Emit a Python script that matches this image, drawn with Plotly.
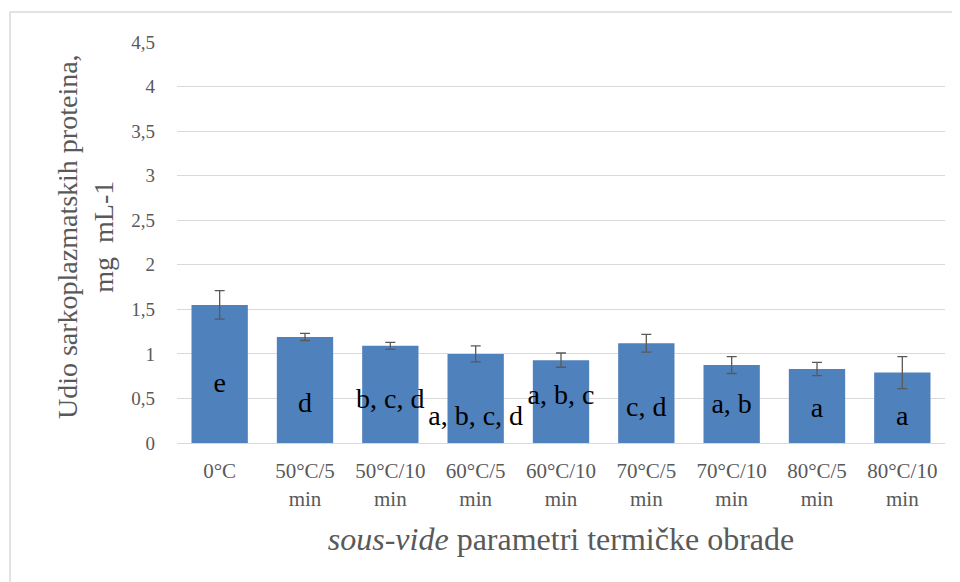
import plotly.graph_objects as go

categories = ["0°C", "50°C/5<br>min", "50°C/10<br>min", "60°C/5<br>min", "60°C/10<br>min",
              "70°C/5<br>min", "70°C/10<br>min", "80°C/5<br>min", "80°C/10<br>min"]
means = [1.55, 1.19, 1.09, 1.00, 0.93, 1.12, 0.875, 0.83, 0.79]
errors = [0.16, 0.04, 0.04, 0.09, 0.08, 0.10, 0.095, 0.075, 0.18]
letters = ["e", "d", "b, c, d", "a, b, c, d", "a, b, c", "c, d", "a, b", "a", "a"]
letter_y = [0.65, 0.43, 0.47, 0.28, 0.52, 0.38, 0.41, 0.37, 0.28]
y_ticks = [0, 0.5, 1, 1.5, 2, 2.5, 3, 3.5, 4, 4.5]
y_tick_text = ["0", "0,5", "1", "1,5", "2", "2,5", "3", "3,5", "4", "4,5"]

SERIF = "Liberation Serif"
GRAY = "#595959"

fig = go.Figure()
fig.add_trace(go.Bar(
    x=categories, y=means,
    marker=dict(color="#4f81bd", line=dict(width=0)),
    error_y=dict(type="data", array=errors, visible=True, color="#595959", thickness=1.3, width=5),
    hoverinfo="skip",
))
fig.add_trace(go.Scatter(
    x=categories, y=letter_y, mode="text", text=letters,
    textfont=dict(family=SERIF, size=28, color="black"),
    hoverinfo="skip",
))

fig.update_layout(
    width=960, height=582,
    margin=dict(l=169, r=23, t=34, b=147),
    plot_bgcolor="white", paper_bgcolor="white",
    showlegend=False,
    bargap=0.34,
    font=dict(family=SERIF),
    xaxis=dict(
        automargin=False,
        tickfont=dict(family=SERIF, size=21, color=GRAY),
        showline=True, linecolor="#d9d9d9", linewidth=1,
        ticks="", ticklabelstandoff=9,
        title=dict(text="<i>sous-vide</i> parametri termičke obrade",
                   font=dict(family=SERIF, size=32, color=GRAY), standoff=18),
    ),
    yaxis=dict(
        automargin=False,
        range=[0, 4.5], tickvals=y_ticks, ticktext=y_tick_text,
        tickfont=dict(family=SERIF, size=19, color=GRAY),
        showgrid=True, gridcolor="#d9d9d9", gridwidth=1,
        zeroline=False, ticks="", ticklabelstandoff=21,
    ),
    annotations=[dict(
        text="Udio sarkoplazmatskih proteina,<br>mg  mL-1",
        textangle=-90, xref="paper", yref="paper", x=-0.1198, y=0.516,
        xanchor="center", yanchor="middle", showarrow=False,
        font=dict(family=SERIF, size=28, color=GRAY),
    )],
    shapes=[dict(type="rect", xref="paper", yref="paper",
                 x0=-0.2174, x1=1.05, y0=-0.45, y1=1.0748,
                 line=dict(color="#d9d9d9", width=1.5), layer="below")],
)

fig.write_html("out.html")
